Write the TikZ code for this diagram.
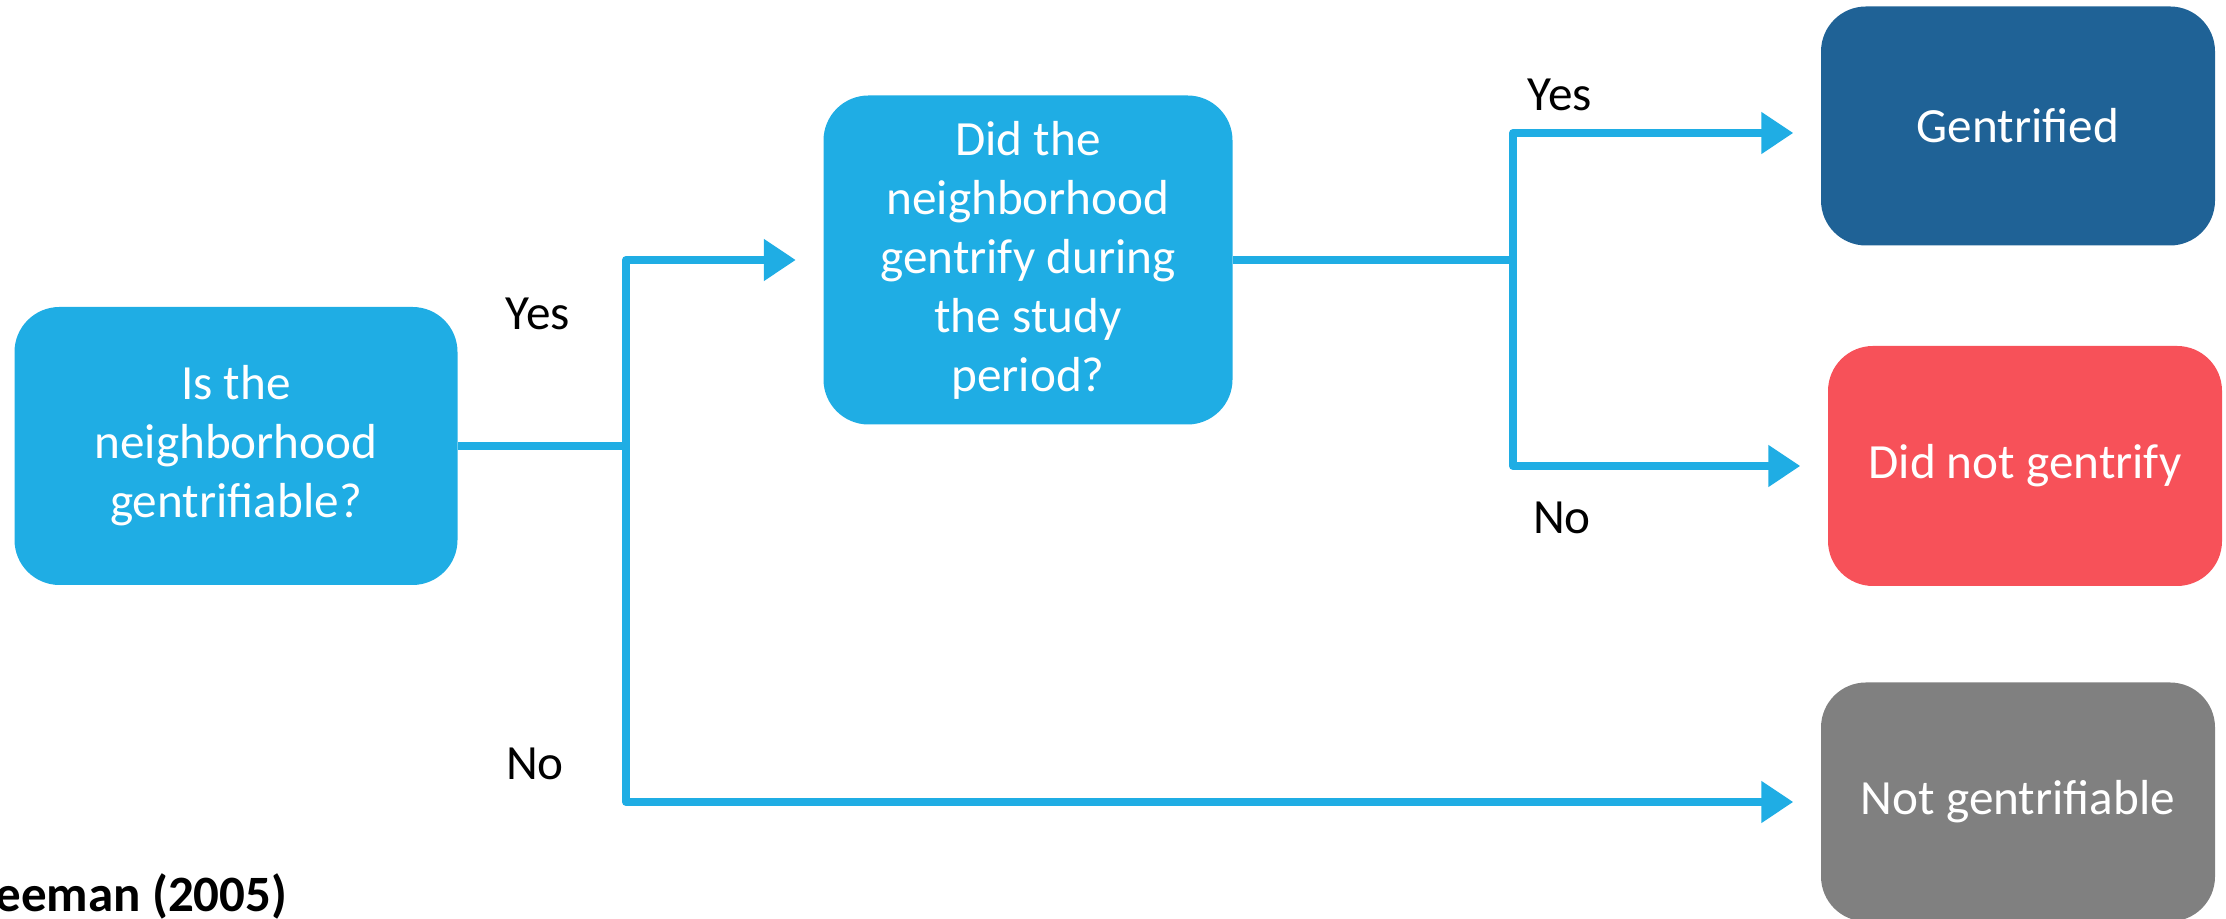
\documentclass[tikz,border=0pt]{standalone}
\usepackage{fontspec}
\setmainfont{Carlito}
\usetikzlibrary{arrows.meta}
\usetikzlibrary{calc,shapes.geometric}

\definecolor{qblue}{RGB}{31,173,228}
\definecolor{gblue}{RGB}{31,98,150}
\definecolor{nred}{RGB}{247,81,89}
\definecolor{ngrey}{RGB}{128,128,128}

\begin{document}
\begin{tikzpicture}[
		box/.style={rectangle, rounded corners=0.45cm, text=white, align=center,
			font=\fontsize{14}{16.8}\selectfont, inner sep=0pt},
		link/.style={draw=qblue, line width=0.08cm, line join=round},
		arr/.style={link, -{Triangle[length=0.32cm, width=0.40cm]}, shorten >=0.27cm},
		lbl/.style={font=\fontsize{14}{16.8}\selectfont, text=black}
		]
		\useasboundingbox (0,0) rectangle (22.26,9.19);
		
		\node[box, fill=qblue, minimum width=4.43cm, minimum height=2.78cm] (isgent) at (2.36,4.73) {Is the\\neighborhood\\gentrifiable?};
		\node[box, fill=qblue, minimum width=4.09cm, minimum height=3.29cm] (didgent) at (10.28,6.59) {Did the\\neighborhood\\gentrify during\\the study\\period?};
		
		\node[box, fill=gblue, minimum width=3.94cm, minimum height=2.39cm] (gentrified) at (20.18,7.93) {Gentrified};
		\node[box, fill=nred, minimum width=3.94cm, minimum height=2.40cm] (notgent) at (20.25,4.53) {Did not gentrify};
		\node[box, fill=ngrey, minimum width=3.94cm, minimum height=2.39cm] (notable) at (20.18,1.17) {Not gentrifiable};
		
		\coordinate (split1) at (6.26,4.73);
		\coordinate (split2) at (15.13,6.59);
		
		\draw[link] (isgent.east) -- (split1);
		\draw[arr] (split1) |- (didgent.west);
		\draw[arr] (split1) |- (notable.west);
		
		\draw[link] (didgent.east) -- (split2);
		\draw[arr] (split2) |- ([yshift=-0.07cm]gentrified.west);
		\draw[arr] (split2) |- (notgent.west);
		
		\node[lbl] (yes1) at (5.38,6.05) {Yes};
		\node[lbl] (no1) at (5.35,1.55) {No};
		\node[lbl] (yes2) at (15.60,8.24) {Yes};
		\node[lbl] (no2) at (15.62,4.01) {No};
		
		\node[lbl, font=\fontsize{14.5}{17}\selectfont\bfseries, anchor=base east, inner sep=0pt] (source) at (2.88,0.07) {Freeman (2005)};
		
	\end{tikzpicture}
\end{document}
